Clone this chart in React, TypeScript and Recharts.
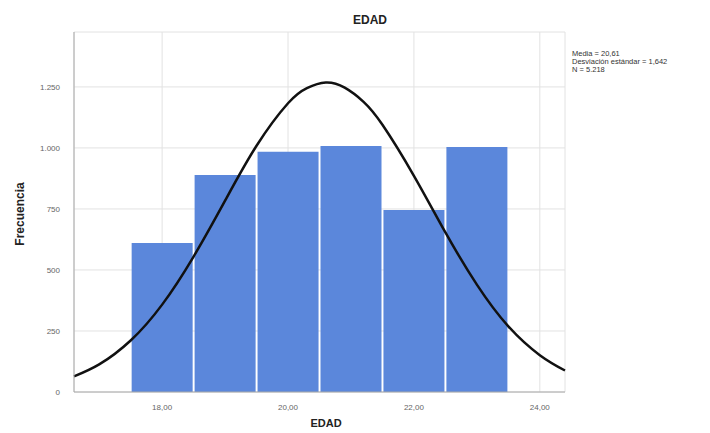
import { ComposedChart, Bar, Line, XAxis, YAxis, CartesianGrid, Label } from "recharts";

// Edad (bins of width 1) and how many cases fall in each one
const ages = [18, 19, 20, 21, 22, 23];
const counts = [610, 889, 984, 1008, 746, 1004];

// Fitted normal curve
const curveX = [16.6, 17, 17.5, 18, 18.5, 19, 19.5, 20, 20.3, 20.6, 20.9, 21.2, 21.5, 22, 22.5, 23, 23.5, 24, 24.4];
const curveY = [64, 113, 211, 358, 555, 784, 1009, 1183, 1245, 1268, 1247, 1189, 1095, 886, 654, 440, 269, 151, 88];

const xTicks = [18, 20, 22, 24];
const yTicks = [0, 250, 500, 750, 1000, 1250];
const statsLines = ["Media = 20,61", "Desviación estándar = 1,642", "N = 5.218"];

const barData = ages.map((x, i) => ({ x, count: counts[i] }));
const curveData = curveX.map((x, i) => ({ x, curve: curveY[i] }));

const font = "'Liberation Sans', Arial, sans-serif";
const xDomain: [number, number] = [16.6, 24.4];
const fmtX = (v: number) => v.toFixed(2).replace(".", ",");
const fmtY = (v: number) => (v >= 1000 ? `${Math.floor(v / 1000)}.${String(v % 1000).padStart(3, "0")}` : String(v));

export default function App() {
  return (
    <div style={{ position: "absolute", top: 0, left: 0, width: 710, height: 433, background: "#fff", fontFamily: font }}>
      <ComposedChart
        width={710}
        height={433}
        data={barData}
        margin={{ top: 32, right: 145, left: 0, bottom: 11 }}
      >
        <CartesianGrid xAxisId="bars" stroke="#e2e2e2" strokeWidth={1} />
        <XAxis
          xAxisId="bars"
          dataKey="x"
          type="number"
          domain={xDomain}
          ticks={xTicks}
          tickFormatter={fmtX}
          height={30}
          stroke="#a8a8a8"
          tickLine={false}
          tick={{ fill: "#666", fontSize: 8, fontFamily: font }}
          tickMargin={6}
        >
          <Label
            content={() => (
              <text x={326} y={427} textAnchor="middle" fontSize={11} fontWeight="bold" fill="#222" fontFamily={font}>
                EDAD
              </text>
            )}
          />
        </XAxis>
        <XAxis xAxisId="curve" dataKey="x" type="number" domain={xDomain} hide />
        <YAxis
          type="number"
          domain={[0, 1475]}
          ticks={yTicks}
          tickFormatter={fmtY}
          width={74}
          stroke="#a8a8a8"
          tickLine={false}
          tick={{ fill: "#666", fontSize: 8, fontFamily: font }}
          tickMargin={8}
        >
          <Label
            content={() => (
              <text x={24} y={214} transform="rotate(-90 24 214)" textAnchor="middle" fontSize={12} fontWeight="bold" fill="#222" fontFamily={font}>
                Frecuencia
              </text>
            )}
          />
        </YAxis>
        <Bar xAxisId="bars" dataKey="count" fill="#5b87db" barSize={61} isAnimationActive={false} />
        <Line
          xAxisId="curve"
          data={curveData}
          dataKey="curve"
          type="natural"
          stroke="#111"
          strokeWidth={2.5}
          dot={false}
          activeDot={false}
          isAnimationActive={false}
        />
        <text x={370} y={24} textAnchor="middle" fontSize={12} fontWeight="bold" fill="#222" fontFamily={font}>
          EDAD
        </text>
        {statsLines.map((s, i) => (
          <text key={s} x={572} y={56 + i * 8} fontSize={7.5} fill="#333" fontFamily={font}>
            {s}
          </text>
        ))}
      </ComposedChart>
    </div>
  );
}
